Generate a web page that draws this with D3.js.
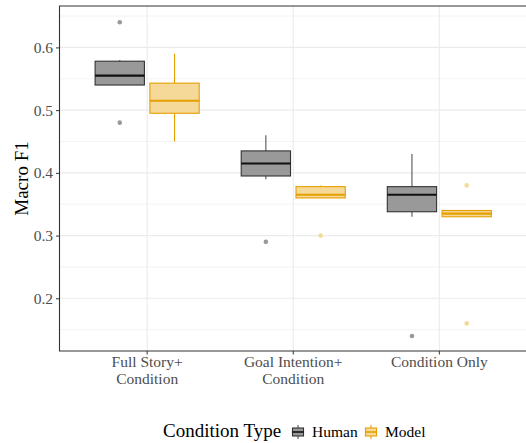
<!DOCTYPE html>
<html>
<head>
<meta charset="utf-8">
<script src="https://cdn.jsdelivr.net/npm/d3@7"></script>
<style>
  body { margin: 0; background: #fff; }
  svg text { font-family: "Liberation Serif", "Times New Roman", serif; }
</style>
</head>
<body>
<svg id="chart" width="526" height="443"></svg>
<script>
// categories and groups
var categories = ['Full Story+\nCondition', 'Goal Intention+\nCondition', 'Condition Only'];
var groups = ['Human', 'Model'];

// box summaries per category: [lower whisker, q1, median, q3, upper whisker]
var humanStats = [
  [0.54, 0.54, 0.555, 0.578, 0.58],
  [0.39, 0.395, 0.415, 0.435, 0.46],
  [0.33, 0.338, 0.365, 0.378, 0.43]
];
var modelStats = [
  [0.45, 0.495, 0.515, 0.543, 0.59],
  [0.36, 0.36, 0.365, 0.378, 0.38],
  [0.33, 0.33, 0.335, 0.34, 0.34]
];
var humanOutliers = [[0.64, 0.48], [0.29], [0.14]];
var modelOutliers = [[], [0.30], [0.38, 0.16]];

var yTicks = [0.2, 0.3, 0.4, 0.5, 0.6];
var yMinor = [0.15, 0.25, 0.35, 0.45, 0.55, 0.65];

var colors = {Human: {fill: '#999999', stroke: '#333333', whisk: '#555555', pt: '#999999'},
              Model: {fill: '#F5D999', stroke: '#E69F00', whisk: '#E69F00', pt: '#F5D999'}};

var svg = d3.select('#chart');
var pLeft = 59.5, pRight = 527, pTop = 6, pBottom = 351;

var x = d3.scaleBand().domain(categories).range([pLeft, pRight]).paddingInner(0).paddingOuter(0.1);
var step = x.step();
var xg = d3.scaleBand().domain(groups).range([0, step * 0.75]);
var boxW = xg.bandwidth() * 0.9;
var y = d3.scaleLinear().domain([0.116, 0.666]).range([pBottom, pTop]);

function cx(cat, g) {
  return x(cat) + step / 2 - step * 0.375 + xg(g) + xg.bandwidth() / 2;
}

// gridlines
var grid = svg.append('g');
grid.selectAll('.minor').data(yMinor).enter().append('line')
  .attr('x1', pLeft).attr('x2', pRight)
  .attr('y1', function(d){ return y(d); }).attr('y2', function(d){ return y(d); })
  .attr('stroke', '#EBEBEB').attr('stroke-width', 0.6);
grid.selectAll('.major').data(yTicks).enter().append('line')
  .attr('x1', pLeft).attr('x2', pRight)
  .attr('y1', function(d){ return y(d); }).attr('y2', function(d){ return y(d); })
  .attr('stroke', '#EBEBEB').attr('stroke-width', 1.1);
grid.selectAll('.vx').data(categories).enter().append('line')
  .attr('x1', function(d){ return x(d) + step / 2; }).attr('x2', function(d){ return x(d) + step / 2; })
  .attr('y1', pTop).attr('y2', pBottom)
  .attr('stroke', '#EBEBEB').attr('stroke-width', 1.1);

// boxes
var statsByGroup = {Human: humanStats, Model: modelStats};
var outByGroup = {Human: humanOutliers, Model: modelOutliers};
var rows = [];
groups.forEach(function(g){
  categories.forEach(function(c, i){
    rows.push({cat: c, g: g, s: statsByGroup[g][i], out: outByGroup[g][i]});
  });
});

var box = svg.append('g').selectAll('g').data(rows).enter().append('g');
box.append('line')
  .attr('x1', function(d){ return cx(d.cat, d.g); }).attr('x2', function(d){ return cx(d.cat, d.g); })
  .attr('y1', function(d){ return y(d.s[4]); }).attr('y2', function(d){ return y(d.s[3]); })
  .attr('stroke', function(d){ return colors[d.g].whisk; }).attr('stroke-width', 1.1);
box.append('line')
  .attr('x1', function(d){ return cx(d.cat, d.g); }).attr('x2', function(d){ return cx(d.cat, d.g); })
  .attr('y1', function(d){ return y(d.s[1]); }).attr('y2', function(d){ return y(d.s[0]); })
  .attr('stroke', function(d){ return colors[d.g].whisk; }).attr('stroke-width', 1.1);
box.append('rect')
  .attr('x', function(d){ return cx(d.cat, d.g) - boxW / 2; })
  .attr('width', boxW)
  .attr('y', function(d){ return y(d.s[3]); })
  .attr('height', function(d){ return y(d.s[1]) - y(d.s[3]); })
  .attr('fill', function(d){ return colors[d.g].fill; })
  .attr('stroke', function(d){ return colors[d.g].stroke; })
  .attr('stroke-width', 1.1);
box.append('line')
  .attr('x1', function(d){ return cx(d.cat, d.g) - boxW / 2; })
  .attr('x2', function(d){ return cx(d.cat, d.g) + boxW / 2; })
  .attr('y1', function(d){ return y(d.s[2]); }).attr('y2', function(d){ return y(d.s[2]); })
  .attr('stroke', function(d){ return d.g === 'Human' ? '#111' : '#E69F00'; })
  .attr('stroke-width', 2.1);
box.selectAll('circle').data(function(d){ return d.out.map(function(v){ return {v: v, d: d}; }); })
  .enter().append('circle')
  .attr('cx', function(o){ return cx(o.d.cat, o.d.g); })
  .attr('cy', function(o){ return y(o.v); })
  .attr('r', 2.3)
  .attr('fill', function(o){ return colors[o.d.g].pt; });

// panel border (top, left, bottom)
svg.append('path')
  .attr('d', 'M' + pRight + ',' + pTop + 'H' + pLeft + 'V' + pBottom + 'H' + pRight)
  .attr('fill', 'none').attr('stroke', '#333').attr('stroke-width', 1.1);

// axes
var yAxis = svg.append('g').attr('transform', 'translate(' + pLeft + ',0)')
  .call(d3.axisLeft(y).tickValues(yTicks).tickSize(3.5).tickPadding(3).tickFormat(d3.format('.1f')));
yAxis.select('.domain').remove();
yAxis.selectAll('line').attr('stroke', '#333');
yAxis.selectAll('text').attr('fill', '#4D4D4D').style('font-size', '15.5px')
  .style('font-family', '"Liberation Serif", serif');

var xAxis = svg.append('g').attr('transform', 'translate(0,' + pBottom + ')')
  .call(d3.axisBottom(x).tickSize(3.5).tickFormat(''));
xAxis.select('.domain').remove();
xAxis.selectAll('line').attr('stroke', '#333');
xAxis.selectAll('.tick').each(function(d){
  var t = d3.select(this).append('text')
    .attr('fill', '#4D4D4D').attr('text-anchor', 'middle')
    .style('font-size', '15.5px').style('font-family', '"Liberation Serif", serif');
  d.split('\n').forEach(function(line, i){
    t.append('tspan').attr('x', 0).attr('y', 15.7 + i * 17.5).text(line);
  });
});

svg.append('text')
  .attr('transform', 'translate(28,' + ((pTop + pBottom) / 2) + ') rotate(-90)')
  .attr('text-anchor', 'middle')
  .style('font-size', '19px').attr('fill', '#000')
  .text('Macro F1');

// legend
var leg = svg.append('g');
leg.append('text').attr('x', 163).attr('y', 437).style('font-size', '19px').text('Condition Type');
var keyX = [291, 364];
groups.forEach(function(g, i){
  var k = leg.append('g').attr('transform', 'translate(' + keyX[i] + ',424)');
  k.append('line').attr('x1', 7).attr('x2', 7).attr('y1', 1).attr('y2', 15)
    .attr('stroke', colors[g].whisk).attr('stroke-width', 1.1);
  k.append('rect').attr('x', 1.5).attr('y', 4).attr('width', 11).attr('height', 8)
    .attr('fill', colors[g].fill).attr('stroke', colors[g].stroke).attr('stroke-width', 1.1);
  k.append('line').attr('x1', 1.5).attr('x2', 12.5).attr('y1', 8).attr('y2', 8)
    .attr('stroke', g === 'Human' ? '#111' : '#E69F00').attr('stroke-width', 1.6);
  leg.append('text').attr('x', keyX[i] + 21).attr('y', 437).style('font-size', '15.5px').text(g);
});
</script>
</body>
</html>
